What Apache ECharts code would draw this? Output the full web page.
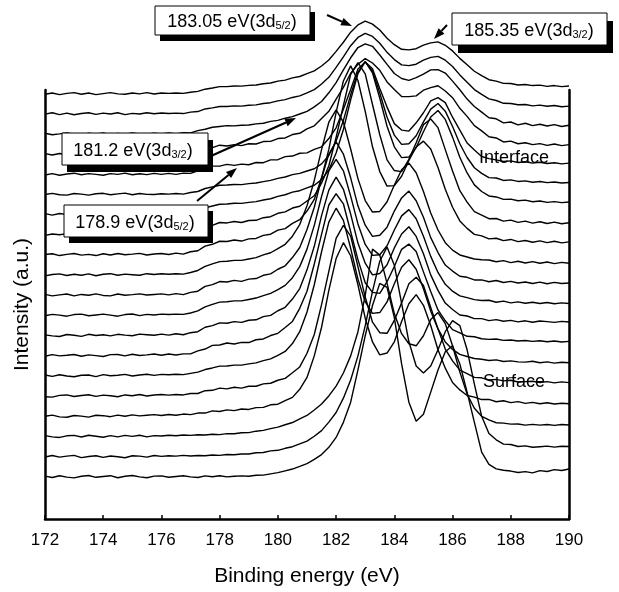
<!DOCTYPE html>
<html><head><meta charset="utf-8">
<script src="https://cdn.jsdelivr.net/npm/echarts/dist/echarts.min.js"></script>
<style>html,body{margin:0;padding:0;background:#fff}#c{width:619px;height:592px}</style>
</head><body><div id="c"></div>
<script>
// Binding energy grid (eV)
const energy = [172,172.25,172.5,172.75,173,173.25,173.5,173.75,174,174.25,174.5,174.75,175,175.25,175.5,175.75,
176,176.25,176.5,176.75,177,177.25,177.5,177.75,178,178.25,178.5,178.75,179,179.25,179.5,179.75,
180,180.25,180.5,180.75,181,181.25,181.5,181.75,182,182.25,182.5,182.75,183,183.25,183.5,183.75,
184,184.25,184.5,184.75,185,185.25,185.5,185.75,186,186.25,186.5,186.75,187,187.25,187.5,187.75,
188,188.25,188.5,188.75,189,189.25,189.5,189.75,190];
const xTicks = [172,174,176,178,180,182,184,186,188,190];
// vertical offset of each spectrum (bottom = surface, top = interface)
const offsets = [2.1,3.1,4.1,5.1,6.1,7.1,8.1,9.1,10.1,11.1,12.1,13.1,14.1,15.1,16.1,17.1,18.1,19.1,20.1,21.1];
// intensities above each spectrum's own offset
const s00 = [0.03,-0.04,0.05,-0.02,-0.06,0.02,0.06,-0.03,0.01,0.05,-0.05,0.02,0.06,-0.01,-0.05,0.03,
0.04,-0.03,0.01,0.05,-0.01,-0.04,0.04,0.00,0.05,-0.01,0.02,0.04,
0.02,0.07,0.08,0.14, 0.20,0.29,0.38,0.51, 0.65,0.86,1.10,1.46, 1.95,2.70,3.70,5.30, 7.00,8.50,9.60,9.40,
7.90,5.60,3.70,2.75, 3.10,4.20,5.30,6.20, 6.50,5.60,4.20,2.70, 1.22,0.61,0.39,0.32, 0.28,0.21,0.25,0.19, 0.30,0.26,0.35,0.31, 0.38];
const s01 = [-0.02,0.05,-0.03,0.02,0.06,-0.05,0.00,0.04,-0.04,0.03,-0.01,-0.06,0.04,0.02,-0.03,0.05,
0.01,0.04,0.02,0.06,0.03,0.05,0.04,0.08,0.06,0.10,0.09,0.13,
0.13,0.19,0.20,0.28, 0.31,0.41,0.49,0.63, 0.77,1.01,1.29,1.71, 2.19,2.90,3.80,5.00, 6.50,8.20,9.70,10.40,
9.50,7.60,5.70,4.50, 4.15,4.50,5.30,6.20, 6.75,6.50,5.30,3.60, 2.00,1.15,0.83,0.62, 0.60,0.50,0.53,0.46, 0.49,0.52,0.47,0.51, 0.50];
const s02 = [0.04,-0.02,-0.05,0.03,0.05,-0.03,0.06,0.01,-0.04,0.04,-0.02,0.05,0.00,0.06,-0.02,0.04,
0.02,0.06,0.03,0.07,0.05,0.08,0.07,0.11,0.09,0.14,0.13,0.18,
0.19,0.26,0.30,0.39, 0.46,0.58,0.69,0.87, 1.04,1.31,1.61,2.01, 2.50,3.15,4.00,5.20, 7.00,9.30,9.00,7.60,
6.10,5.10,4.60,4.50, 5.00,5.80,6.15,5.60, 4.50,3.20,2.10,1.40, 1.00,0.82,0.68,0.66, 0.61,0.62,0.56,0.60, 0.56,0.59,0.55,0.59, 0.57];
const s03 = [0.00,0.06,-0.03,-0.05,0.04,0.01,-0.04,0.05,0.03,-0.02,0.06,0.00,0.07,0.02,0.05,0.08,
0.04,0.09,0.05,0.11,0.08,0.16,0.16,0.27,0.24,0.32,0.28,0.36,
0.34,0.43,0.44,0.57, 0.60,0.78,0.94,1.34, 1.93,3.00,4.42,6.25, 7.83,8.62,7.97,6.53, 4.87,3.69,3.05,3.14,
3.70,4.71,5.59,6.04, 5.51,4.51,3.30,2.39, 1.68,1.31,1.03,0.95, 0.83,0.84,0.72,0.77, 0.68,0.73,0.64,0.69, 0.62,0.67,0.61,0.65, 0.62];
const s04 = [-0.03,-0.05,0.04,0.06,-0.02,0.03,0.07,-0.01,0.05,0.02,-0.03,0.06,0.02,0.08,0.01,0.06,
0.08,0.05,0.08,0.06,0.13,0.13,0.27,0.29,0.40,0.36,0.44,0.40,
0.49,0.49,0.61,0.64, 0.79,0.88,1.16,1.45, 2.13,3.06,4.54,6.19, 7.83,8.48,7.95,6.43, 4.92,3.67,3.15,3.12,
3.76,4.63,5.58,5.90, 5.49,4.40,3.34,2.34, 1.75,1.29,1.12,0.93, 0.91,0.80,0.83,0.76, 0.79,0.70,0.72,0.74, 0.68,0.72,0.66,0.71, 0.67];
const s05 = [0.05,-0.02,0.06,0.00,-0.04,0.04,0.05,-0.03,0.07,0.01,0.04,0.08,0.00,0.05,0.09,0.03,
0.08,0.06,0.09,0.07,0.13,0.19,0.32,0.40,0.49,0.50,0.54,0.54,
0.60,0.65,0.76,0.85, 1.02,1.22,1.61,2.20, 3.18,4.53,6.17,7.64, 8.33,7.73,6.34,4.81, 3.69,3.11,3.15,3.68,
4.58,5.40,5.77,5.30, 4.33,3.22,2.34,1.69, 1.32,1.07,0.97,0.87, 0.83,0.77,0.80,0.72, 0.75,0.70,0.69,0.73, 0.66,0.70,0.64,0.68, 0.66];
const s06 = [-0.02,0.06,0.00,0.03,0.07,-0.02,0.05,0.01,-0.03,0.06,0.07,0.00,0.08,0.02,0.05,0.09,
0.03,0.09,0.04,0.10,0.10,0.25,0.34,0.52,0.54,0.64,0.59,0.67,
0.66,0.80,0.84,1.01, 1.12,1.41,1.71,2.36, 3.21,4.56,6.03,7.49, 8.05,7.55,6.16,4.78, 3.63,3.15,3.10,3.68,
4.44,5.29,5.55,5.18, 4.17,3.20,2.28,1.74, 1.30,1.14,0.97,0.95, 0.85,0.82,0.84,0.77, 0.79,0.74,0.76,0.72, 0.75,0.70,0.74,0.69, 0.72];
const s07 = [0.04,-0.01,-0.04,0.06,0.02,-0.03,0.07,0.01,0.05,-0.01,0.07,0.03,0.00,0.08,0.05,0.02,
0.08,0.03,0.10,0.05,0.15,0.20,0.42,0.50,0.64,0.62,0.70,0.66,
0.77,0.79,0.95,1.01, 1.24,1.41,1.82,2.34, 3.27,4.44,5.96,7.23, 7.87,7.27,6.04,4.60, 3.60,3.02,3.09,3.52,
4.36,5.05,5.41,4.93, 4.07,3.02,2.25,1.62, 1.30,1.03,0.98,0.85, 0.85,0.75,0.80,0.72, 0.76,0.69,0.74,0.67, 0.73,0.70,0.66,0.71, 0.68];
const s08 = [-0.01,0.06,0.02,-0.03,0.05,0.07,-0.01,0.03,0.07,0.02,-0.03,0.05,0.08,0.00,0.06,0.03,
0.07,0.05,0.07,0.06,0.13,0.23,0.43,0.56,0.67,0.69,0.73,0.73,
0.80,0.87,0.99,1.10, 1.29,1.50,1.88,2.43, 3.30,4.48,5.91,7.18, 7.75,7.19,5.93,4.55, 3.53,2.99,3.02,3.47,
4.25,4.95,5.26,4.81, 3.94,2.94,2.14,1.55, 1.21,0.98,0.89,0.79, 0.75,0.76,0.66,0.72, 0.63,0.68,0.61,0.66, 0.60,0.65,0.59,0.63, 0.60];
const s09 = [0.05,-0.02,0.03,0.07,-0.02,0.05,0.01,0.08,0.00,-0.02,0.07,0.01,0.04,0.08,0.02,0.05,
0.08,0.03,0.09,0.04,0.15,0.21,0.45,0.54,0.69,0.67,0.75,0.70,
0.81,0.84,1.00,1.07, 1.30,1.47,1.88,2.38, 3.27,4.38,5.82,7.02, 7.62,7.02,5.84,4.45, 3.49,2.93,2.99,3.39,
4.19,4.84,5.18,4.70, 3.88,2.87,2.13,1.51, 1.21,0.95,0.90,0.77, 0.77,0.68,0.74,0.64, 0.70,0.62,0.67,0.59, 0.66,0.58,0.65,0.59, 0.62];
const s10 = [-0.03,0.04,0.07,-0.01,0.05,0.00,0.07,-0.02,0.05,0.08,0.00,0.06,0.03,0.00,0.08,0.04,
0.08,0.05,0.08,0.06,0.14,0.24,0.44,0.57,0.68,0.70,0.74,0.74,
0.81,0.88,1.01,1.12, 1.32,1.54,1.94,2.52, 3.45,4.71,6.24,7.60, 8.21,7.61,6.27,4.80, 3.71,3.14,3.17,3.65,
4.48,5.24,5.57,5.09, 4.16,3.09,2.25,1.62, 1.25,1.01,0.91,0.81, 0.77,0.76,0.67,0.73, 0.63,0.70,0.61,0.68, 0.60,0.66,0.58,0.64, 0.60];
const s11 = [0.03,0.07,-0.02,0.04,0.08,0.00,0.04,-0.02,0.07,0.01,0.08,0.02,0.05,0.09,0.01,0.06,
0.08,0.03,0.10,0.05,0.17,0.22,0.45,0.54,0.69,0.68,0.75,0.70,
0.81,0.83,0.98,1.04, 1.24,1.32,1.58,1.76, 2.19,2.77,3.84,5.25, 7.09,8.65,9.40,8.67, 7.14,5.38,4.15,3.43,
3.45,3.92,4.70,5.37, 5.66,5.27,4.35,3.27, 2.38,1.70,1.33,1.03, 0.96,0.81,0.84,0.72, 0.78,0.67,0.73,0.64, 0.71,0.62,0.69,0.61, 0.66];
const s12 = [-0.02,0.05,0.01,0.07,-0.02,0.04,0.08,0.00,0.03,0.07,-0.01,0.06,0.02,0.08,0.00,0.05,
0.07,0.04,0.07,0.05,0.14,0.19,0.41,0.48,0.62,0.60,0.67,0.62,
0.72,0.73,0.86,0.91, 1.08,1.15,1.34,1.43, 1.69,1.95,2.57,3.44, 4.85,6.43,7.98,8.56, 8.00,6.48,4.98,3.73,
3.20,3.15,3.76,4.58, 5.48,5.76,5.33,4.24, 3.18,2.20,1.63,1.16, 0.99,0.81,0.82,0.69, 0.74,0.63,0.69,0.59, 0.66,0.57,0.64,0.56, 0.61];
const s13 = [0.06,-0.01,0.07,0.01,0.03,0.08,-0.01,0.06,-0.02,0.04,0.07,0.00,0.08,0.02,0.06,0.03,
0.06,0.03,0.06,0.04,0.12,0.19,0.35,0.44,0.53,0.54,0.58,0.57,
0.62,0.66,0.74,0.80, 0.92,1.00,1.13,1.20, 1.34,1.47,1.75,2.23, 3.07,4.24,5.71,7.01, 7.61,7.05,5.79,4.40,
3.38,2.84,2.87,3.34, 4.13,4.86,5.18,4.74, 3.86,2.86,2.08,1.49, 1.16,0.94,0.89,0.77, 0.78,0.70,0.73,0.65, 0.69,0.62,0.66,0.61, 0.64];
const s14 = [0.01,0.07,0.00,-0.02,0.06,0.03,-0.02,0.05,0.07,0.00,0.04,0.08,0.00,0.06,0.02,0.01,
0.05,0.03,0.06,0.03,0.11,0.16,0.31,0.39,0.47,0.48,0.51,0.50,
0.55,0.58,0.65,0.71, 0.81,0.88,1.00,1.06, 1.18,1.29,1.53,1.95, 2.67,3.69,4.96,6.09, 6.61,6.13,5.05,3.85,
2.96,2.50,2.53,2.93, 3.62,4.25,4.53,4.15, 3.39,2.53,1.85,1.34, 1.06,0.85,0.83,0.71, 0.74,0.66,0.69,0.62, 0.66,0.60,0.63,0.58, 0.61];
const s15 = [-0.02,0.05,-0.03,0.03,0.07,-0.01,0.05,0.01,-0.03,0.05,0.01,0.07,-0.01,0.04,0.00,0.06,
0.01,0.06,0.01,0.07,0.06,0.19,0.26,0.42,0.42,0.51,0.46,0.52,
0.49,0.60,0.59,0.73, 0.74,0.89,0.92,1.06, 1.08,1.25,1.38,1.79, 2.32,3.24,4.22,5.24, 5.59,5.26,4.28,3.35,
2.53,2.21,2.16,2.57, 3.07,3.66,3.82,3.57, 2.85,2.21,1.57,1.22, 0.90,0.79,0.73,0.65, 0.68,0.60,0.64,0.57, 0.61,0.55,0.59,0.53, 0.57];
const s16 = [0.04,-0.03,0.05,-0.01,0.03,0.07,-0.02,0.05,0.00,0.07,-0.02,0.03,0.07,0.01,0.08,0.02,
0.06,0.03,0.06,0.04,0.11,0.15,0.31,0.34,0.46,0.42,0.49,0.44,
0.53,0.52,0.64,0.65, 0.79,0.82,0.99,1.05, 1.27,1.42,1.78,2.14, 2.75,3.33,4.03,4.48, 4.76,4.54,4.18,3.60,
3.22,2.88,2.87,2.91, 3.19,3.32,3.41,3.15, 2.82,2.29,1.89,1.43, 1.17,0.88,0.82,0.62, 0.66,0.53,0.58,0.49, 0.54,0.45,0.52,0.44, 0.49];
const s17 = [0.05,-0.02,0.02,0.07,0.00,-0.03,0.05,0.01,0.07,-0.02,0.04,0.01,0.07,0.02,0.00,0.06,
0.02,0.07,0.02,0.08,0.07,0.18,0.25,0.35,0.39,0.43,0.42,0.45,
0.46,0.52,0.55,0.64, 0.69,0.80,0.88,1.01, 1.14,1.36,1.63,2.06, 2.57,3.20,3.80,4.31, 4.49,4.37,3.94,3.47,
3.02,2.77,2.68,2.81, 2.99,3.20,3.21,3.04, 2.64,2.21,1.75,1.38, 1.10,0.82,0.77,0.57, 0.61,0.47,0.55,0.43, 0.50,0.41,0.48,0.39, 0.45];
const s18 = [0.00,0.07,-0.02,0.05,-0.03,0.03,0.07,-0.01,0.05,0.01,0.07,-0.02,0.04,0.01,0.07,0.02,
0.06,0.03,0.05,0.03,0.10,0.13,0.26,0.31,0.38,0.38,0.41,0.40,
0.44,0.46,0.53,0.57, 0.66,0.72,0.83,0.91, 1.06,1.22,1.50,1.83, 2.32,2.84,3.40,3.81, 4.01,3.86,3.52,3.07,
2.71,2.45,2.41,2.48, 2.68,2.82,2.87,2.68, 2.37,1.95,1.58,1.22, 0.98,0.76,0.68,0.54, 0.53,0.47,0.48,0.41, 0.45,0.39,0.43,0.37, 0.40];
const s19 = [-0.01,0.05,-0.03,0.03,0.07,-0.01,0.05,-0.03,0.02,0.07,0.01,-0.01,0.05,0.01,0.07,0.00,
0.05,0.03,0.05,0.03,0.09,0.13,0.24,0.30,0.37,0.37,0.40,0.39,
0.43,0.45,0.51,0.55, 0.64,0.69,0.80,0.87, 1.01,1.15,1.39,1.69, 2.12,2.57,3.07,3.43, 3.62,3.47,3.18,2.77,
2.45,2.22,2.19,2.25, 2.43,2.54,2.59,2.42, 2.14,1.77,1.45,1.13, 0.91,0.71,0.64,0.53, 0.52,0.45,0.47,0.42, 0.44,0.38,0.42,0.37, 0.40];
const spectra = [s00,s01,s02,s03,s04,s05,s06,s07,s08,s09,s10,s11,s12,s13,s14,s15,s16,s17,s18,s19];

const FONT = '"Liberation Sans", Arial, Helvetica, sans-serif';
const chart = echarts.init(document.getElementById('c'), null, {renderer: 'canvas'});

const series = spectra.map((vals, i) => ({
  type: 'line',
  data: energy.map((e, k) => [e, offsets[i] + vals[k]]),
  showSymbol: false, symbol: 'none', clip: false, silent: true,
  lineStyle: {color: '#000', width: 1.4},
  z: 2
}));

function box(x, y, w, h, sx, sy, main, sub, tx) {
  return [
    {type: 'rect', shape: {x: x + sx, y: y + sy, width: w, height: h}, style: {fill: '#000'}, z: 100},
    {type: 'rect', shape: {x: x, y: y, width: w, height: h}, style: {fill: '#fff', stroke: '#000', lineWidth: 1}, z: 101},
    {type: 'text', z: 102, style: {
      x: tx, y: y + h / 2, align: 'center', verticalAlign: 'middle',
      text: '{a|' + main + '}{b|' + sub + '}{a|)}',
      rich: {
        a: {fontSize: 18, fontFamily: FONT, fill: '#000', lineHeight: 22, verticalAlign: 'bottom'},
        b: {fontSize: 11, fontFamily: FONT, fill: '#000', lineHeight: 12, verticalAlign: 'bottom'}
      }
    }}
  ];
}
function arrow(x1, y1, x2, y2) {
  const dx = x2 - x1, dy = y2 - y1, L = Math.hypot(dx, dy), ux = dx / L, uy = dy / L;
  const hl = 11, hw = 4, bx = x2 - ux * hl, by = y2 - uy * hl;
  return [
    {type: 'line', shape: {x1: x1, y1: y1, x2: bx, y2: by}, style: {stroke: '#000', lineWidth: 2}, z: 100},
    {type: 'polygon', shape: {points: [[x2, y2], [bx - uy * hw, by + ux * hw], [bx + uy * hw, by - ux * hw]]}, style: {fill: '#000'}, z: 100}
  ];
}

const graphics = [].concat(
  box(155, 6, 155, 29, 5, 6, '183.05 eV(3d', '5/2', 232),
  box(452, 13, 155, 32, 6, 8, '185.35 eV(3d', '3/2', 529),
  box(62, 133, 146, 32, 5, 7, '181.2 eV(3d', '3/2', 133),
  box(64, 205, 144, 32, 5, 6, '178.9 eV(3d', '5/2', 135),
  arrow(327, 15, 352, 26),
  arrow(447, 25, 434, 39),
  arrow(211, 156, 296, 118),
  arrow(197, 201, 237, 168),
  [
    {type: 'text', z: 102, style: {x: 479, y: 158, text: 'Interface', fontSize: 18, fontFamily: FONT, fill: '#000', verticalAlign: 'middle'}},
    {type: 'text', z: 102, style: {x: 483, y: 382, text: 'Surface', fontSize: 18, fontFamily: FONT, fill: '#000', verticalAlign: 'middle'}}
  ]
);

chart.setOption({
  animation: false,
  backgroundColor: '#fff',
  grid: {left: 45, right: 50, top: 90, bottom: 69.5, containLabel: false},
  xAxis: {
    type: 'value', min: xTicks[0], max: xTicks[xTicks.length - 1], interval: 2,
    name: 'Binding energy (eV)', nameLocation: 'middle', nameGap: 47,
    nameTextStyle: {fontSize: 21, fontFamily: FONT, color: '#000'},
    axisLine: {show: true, onZero: false, lineStyle: {color: '#000', width: 2.5}},
    axisTick: {show: true, inside: true, length: 4, lineStyle: {color: '#000', width: 1.5}},
    axisLabel: {fontSize: 17, fontFamily: FONT, color: '#000', margin: 13},
    splitLine: {show: false}
  },
  yAxis: [
    {type: 'value', min: 0, max: 21.3, position: 'left',
     name: 'Intensity (a.u.)', nameLocation: 'middle', nameGap: 12,
     nameTextStyle: {fontSize: 21, fontFamily: FONT, color: '#000'},
     axisLine: {show: true, lineStyle: {color: '#000', width: 2.5}},
     axisTick: {show: false}, axisLabel: {show: false}, splitLine: {show: false}},
    {type: 'value', min: 0, max: 21.3, position: 'right',
     axisLine: {show: true, lineStyle: {color: '#000', width: 2.5}},
     axisTick: {show: false}, axisLabel: {show: false}, splitLine: {show: false}}
  ],
  series: series,
  graphic: graphics
});
</script>
</body></html>
